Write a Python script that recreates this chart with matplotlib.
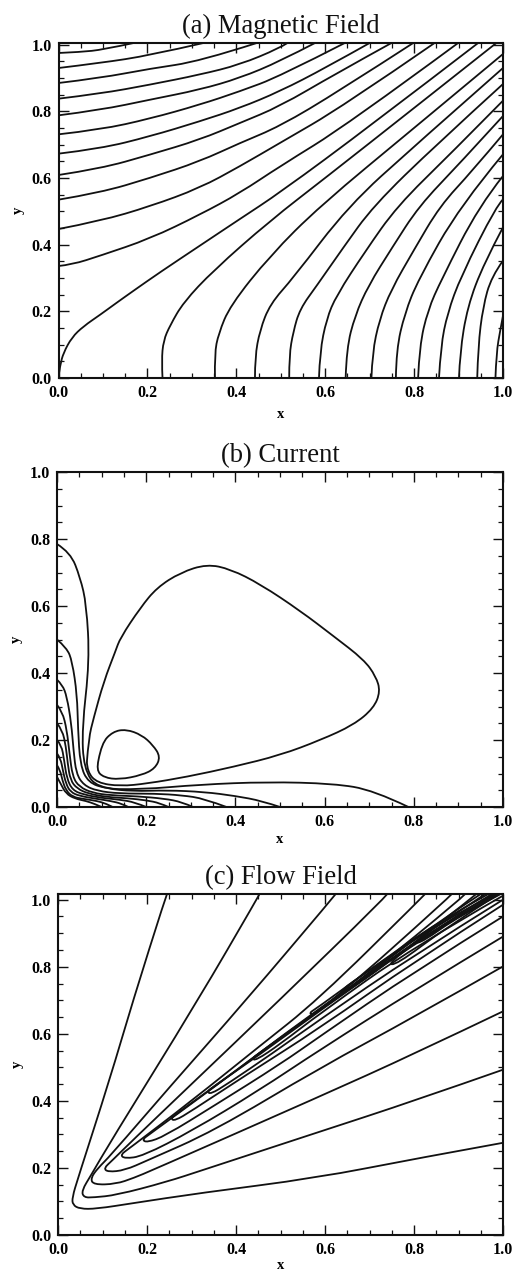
#!/usr/bin/env python3
import matplotlib
matplotlib.use("Agg")
import matplotlib.pyplot as plt
from matplotlib.patches import PathPatch
from matplotlib.path import Path
from matplotlib.ticker import MultipleLocator

# contours, each line is a list of (x, y)
magnetic_lines = [
    [(0, .975), (.05, .978), (.10, .985), (.169, 1.005)],
    [(0, .930), (.094, .945), (.206, .968), (.326, 1.005)],
    [(0, .885), (.094, .900), (.206, .928), (.318, .950), (.446, 1.005)],
    [(0, .838), (.094, .853), (.206, .880), (.318, .910), (.408, .940), (.498, .990), (.515, 1.005)],
    [(0, .788), (.094, .804), (.206, .835), (.318, .865), (.408, .900), (.498, .950), (.577, 1.005)],
    [(0, .731), (.094, .745), (.206, .778), (.318, .820), (.408, .860), (.498, .905), (.644, 1.005)],
    [(0, .673), (.094, .688), (.206, .725), (.318, .770), (.408, .810), (.498, .860), (.6, .93), (.70, 1.005)],
    [(0, .609), (.094, .628), (.206, .670), (.318, .715), (.408, .765), (.498, .815), (.62, .91), (.749, 1.005)],
    [(0, .535), (.094, .556), (.206, .600), (.318, .650), (.408, .705), (.498, .755), (.63, .86), (.798, 1.005)],
    [(0, .447), (.094, .471), (.206, .515), (.318, .570), (.408, .635), (.498, .705), (.64, .815), (.846, 1.005)],
    [(0, .336), (.03, .34), (.094, .367), (.206, .418), (.318, .490), (.408, .555), (.498, .635), (.65, .76), (.899, 1.005)],
    [(0, .005), (.004, .04), (.011, .075), (.03, .122), (.056, .155), (.094, .19), (.13, .225), (.169, .262), (.228, .317),
     (.318, .397), (.408, .477), (.498, .556), (.7, .755), (.944, 1.005)],
    [(.234, 0), (.232, .053), (.236, .112), (.251, .158), (.281, .227), (.348, .322), (.476, .472), (.6, .60),
     (.8, .81), (.985, 1.005)],
    [(.352, 0), (.351, .073), (.36, .133), (.386, .217), (.476, .367), (.588, .516), (.8, .75), (1, .972)],
    [(.442, 0), (.442, .063), (.453, .143), (.476, .222), (.528, .30), (.652, .516), (.8, .695), (1, .93)],
    [(.519, 0), (.519, .068), (.528, .138), (.543, .207), (.581, .277), (.64, .39), (.708, .516), (.85, .70), (1, .882)],
    [(.586, 0), (.588, .078), (.603, .177), (.625, .247), (.69, .38), (.762, .516), (.88, .67), (1, .832)],
    [(.646, 0), (.648, .088), (.667, .187), (.697, .277), (.75, .39), (.811, .516), (.9, .64), (1, .786)],
    [(.704, 0), (.706, .075), (.722, .175), (.748, .264), (.8, .385), (.858, .516), (.93, .62), (1, .731)],
    [(.759, 0), (.760, .085), (.779, .194), (.809, .294), (.903, .516), (1, .671)],
    [(.809, 0), (.812, .095), (.831, .204), (.861, .294), (.946, .516), (1, .606)],
    [(.856, 0), (.86, .095), (.875, .194), (.905, .304), (.985, .516), (1, .536)],
    [(.901, 0), (.903, .075), (.92, .214), (.957, .344), (1, .452)],
    [(.942, 0), (.944, .095), (.955, .214), (.974, .304), (1, .352)],
    [(.983, 0), (.985, .075), (.994, .145), (1, .187)],
]

current_lines = [
    # big loop
    [(.067, .135), (.071, .205), (.082, .265), (.105, .375), (.131, .465), (.142, .505), (.187, .595), (.224, .655),
     (.277, .70), (.336, .725), (.389, .710), (.456, .665), (.546, .585), (.620, .51), (.688, .44), (.715, .39),
     (.725, .345), (.710, .295), (.665, .245), (.591, .20), (.501, .155), (.396, .12), (.291, .09), (.202, .07),
     (.142, .062), (.09, .072), (.068, .105), (.067, .135)],
    # small loop
    [(.093, .14), (.100, .19), (.125, .225), (.155, .232), (.19, .215), (.215, .185), (.232, .15), (.22, .115),
     (.19, .095), (.14, .082), (.105, .088), (.088, .11), (.093, .14)],
    # corner family
    [(0, .785), (.03, .76), (.052, .685), (.066, .605), (.073, .435), (.056, .235), (.06, .115), (.09, .055),
     (.187, .052), (.321, .067), (.471, .075), (.62, .07), (.71, .05), (.788, 0)],
    [(0, .5), (.022, .475), (.034, .435), (.045, .335), (.047, .235), (.052, .125), (.07, .073), (.11, .055),
     (.17, .047), (.247, .05), (.33, .045), (.4, .033), (.46, .018), (.5, 0)],
    [(0, .38), (.012, .365), (.022, .33), (.032, .25), (.037, .17), (.043, .10), (.06, .065), (.09, .048),
     (.14, .04), (.22, .04), (.28, .035), (.33, .025), (.38, 0)],
    [(0, .305), (.012, .285), (.022, .23), (.028, .16), (.035, .09), (.05, .06), (.08, .042), (.12, .035),
     (.18, .032), (.24, .025), (.28, .015), (.305, 0)],
    [(0, .25), (.012, .23), (.02, .18), (.024, .13), (.03, .08), (.045, .055), (.07, .04), (.11, .03),
     (.16, .026), (.2, .02), (.23, .012), (.25, 0)],
    [(0, .2), (.01, .185), (.016, .14), (.022, .085), (.035, .05), (.06, .037), (.1, .027), (.14, .022),
     (.175, .014), (.2, 0)],
    [(0, .16), (.008, .145), (.013, .11), (.02, .07), (.03, .045), (.05, .033), (.09, .024), (.12, .018),
     (.145, .01), (.16, 0)],
    [(0, .125), (.007, .11), (.012, .08), (.02, .05), (.035, .03), (.06, .024), (.09, .018), (.11, .01), (.125, 0)],
    [(0, .09), (.008, .07), (.02, .04), (.04, .025), (.065, .018), (.085, .009), (.1, 0)],
]

flow_lines = [
    [(.245, 1.017), (.24, 1.0), (.169, .701), (.116, .463), (.045, .17), (.032, .112), (.033, .09), (.049, .078),
     (.086, .078), (.169, .095), (.318, .125), (.58, .17), (.805, .228), (1, .275)],
    [(.453, 1.017), (.446, 1.0), (.315, .701), (.116, .274), (.075, .18), (.053, .132), (.058, .112), (.08, .112), (.131, .119),
     (.243, .158), (.326, .194), (.588, .308), (.8, .40), (1, .493)],
    [(.624, 1.017), (.614, 1.0), (.423, .701), (.25, .44), (.116, .234), (.09, .2), (.073, .169), (.08, .15),
     (.13, .152), (.17, .17), (.213, .194), (.588, .413), (.8, .54), (1, .667)],
    [(.74, 1.017), (.73, 1.0), (.498, .701), (.3, .45), (.169, .284), (.12, .22), (.103, .199), (.112, .188),
     (.15, .193), (.2, .222), (.35, .31), (.588, .498), (.8, .65), (1, .801)],
    [(.825, 1.017), (.813, 1.0), (.584, .701), (.45, .56), (.3, .40), (.16, .258), (.14, .239), (.15, .228),
     (.19, .235), (.3, .31), (.45, .43), (.588, .552), (.8, .73), (1, .89)],
    [(.885, 1.017), (.873, 1.0), (.62, .70), (.5, .59), (.35, .44), (.205, .30), (.189, .284), (.2, .276),
     (.24, .295), (.35, .385), (.5, .51), (.588, .592), (.8, .785), (1, .95)],
    [(.915, 1.017), (.903, 1.0), (.7, .78), (.55, .64), (.4, .49), (.27, .365), (.253, .348), (.262, .34),
     (.30, .37), (.42, .475), (.588, .617), (.8, .815), (1, .985)],
    [(.94, 1.017), (.925, 1.0), (.75, .82), (.6, .68), (.45, .535), (.35, .443), (.335, .428), (.343, .42),
     (.38, .45), (.48, .54), (.588, .642), (.8, .835), (1, 1.0)],
    [(.95, 1.017), (.85, .93), (.72, .80), (.57, .655), (.45, .54), (.436, .527), (.444, .52), (.5, .57),
     (.588, .66), (.8, .86), (1, 1.012)],
    [(.967, 1.017), (.85, .93), (.72, .81), (.58, .675), (.564, .662), (.575, .655), (.7, .78), (.85, .915), (.985, 1.017)],
    [(.975, 1.017), (.85, .915), (.74, .81), (.76, .805), (.87, .915), (.99, 1.017)],
    [(.98, 1.017), (.85, .925), (.7, .79), (.63, .725), (.645, .72), (.8, .87), (.985, 1.017)],
    [(.96, 1.017), (.85, .92), (.8, .87), (.82, .875), (.9, .95), (.995, 1.017)],
]

titles = ["(a) Magnetic Field", "(b) Current", "(c) Flow Field"]
panels = [magnetic_lines, current_lines, flow_lines]
tick_values = [0.0, 0.2, 0.4, 0.6, 0.8, 1.0]
# left, right, top, bottom of each frame, pixels; top of the y range
frames = [(58.5, 503, 43, 378, 1.005), (57, 503, 472, 807, 1.0), (58, 503, 894, 1235, 1.017)]
xlabel_pads = [5, 2, 1]

W, H = 517, 1270


def contour_path(line):
    # listed points are the control points of quadratic curves
    verts = [line[0]]
    codes = [Path.MOVETO]
    for i in range(1, len(line) - 1):
        p, q = line[i], line[i + 1]
        end = q if i == len(line) - 2 else ((p[0] + q[0]) / 2, (p[1] + q[1]) / 2)
        verts += [p, end]
        codes += [Path.CURVE3, Path.CURVE3]
    return Path(verts, codes)


plt.rcParams["font.family"] = ["Liberation Serif", "DejaVu Serif"]
fig = plt.figure(figsize=(W / 100, H / 100), dpi=100)

for lines, title, (l, r, t, b, ytop), xpad in zip(panels, titles, frames, xlabel_pads):
    ax = fig.add_axes([l / W, 1 - b / H, (r - l) / W, (b - t) / H])
    for line in lines:
        ax.add_patch(PathPatch(contour_path(line), fill=False, edgecolor="#111111", lw=1.3))
    ax.set_xlim(0, 1)
    ax.set_ylim(0, ytop)
    ax.set_xticks(tick_values)
    ax.set_yticks(tick_values)
    ax.set_xticklabels([f"{v:.1f}" for v in tick_values], fontweight="bold", fontsize=11.5)
    ax.set_yticklabels([f"{v:.1f}" for v in tick_values], fontweight="bold", fontsize=11.5)
    ax.xaxis.set_minor_locator(MultipleLocator(0.05))
    ax.yaxis.set_minor_locator(MultipleLocator(0.05))
    ax.tick_params(which="major", direction="in", length=7, width=1.0, top=True, right=True, pad=5, color="#111111")
    ax.tick_params(which="minor", direction="in", length=3.5, width=0.9, top=True, right=True, color="#111111")
    for s in ax.spines.values():
        s.set_linewidth(1.5)
        s.set_color("#111111")
    ax.set_title(title, fontsize=19.2, pad=7, color="#111111")
    ax.set_xlabel("x", fontweight="bold", fontsize=10.5, labelpad=xpad)
    ax.set_ylabel("y", fontweight="bold", fontsize=10.5, labelpad=5)

fig.savefig("out.png", dpi=100)
